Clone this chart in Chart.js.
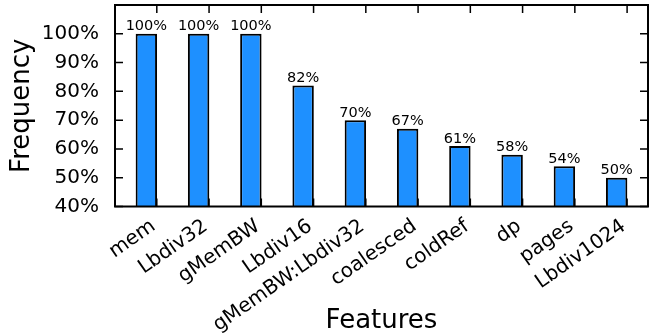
<!DOCTYPE html>
<html>
<head>
<meta charset="utf-8">
<script src="https://cdn.jsdelivr.net/npm/chart.js@4/dist/chart.umd.min.js"></script>
<style>
  html, body { margin: 0; padding: 0; background: #fff; }
  #wrap { width: 657px; height: 335px; }
</style>
</head>
<body>
<div id="wrap"><canvas id="c" width="657" height="335"></canvas></div>
<script>
// Feature names along the x axis
const features = ['mem', 'Lbdiv32', 'gMemBW', 'Lbdiv16', 'gMemBW:Lbdiv32',
                  'coalesced', 'coldRef', 'dp', 'pages', 'Lbdiv1024'];
// How often each feature appears (percent)
const frequency = [100, 100, 100, 82, 70, 67, 61, 58, 54, 50];
// Y axis tick values (percent)
const yTicks = [40, 50, 60, 70, 80, 90, 100, 110];

const FONT = 'DejaVu Sans';

// Bars sit just left of their tick: each spans [i - 0.4, i]
const barPoints = frequency.map((v, i) => ({ x: i - 0.2, y: v }));

// Frame with inward tick marks on every side
const framePlugin = {
  id: 'frame',
  afterDatasetsDraw(chart) {
    const { ctx, chartArea: a, scales } = chart;
    ctx.save();
    ctx.strokeStyle = '#000';
    ctx.lineWidth = 1.5;
    const len = 8;
    ctx.beginPath();
    yTicks.forEach(v => {
      const y = scales.y.getPixelForValue(v);
      ctx.moveTo(a.left, y); ctx.lineTo(a.left + len, y);
      ctx.moveTo(a.right, y); ctx.lineTo(a.right - len, y);
    });
    features.forEach((_, i) => {
      const x = scales.x.getPixelForValue(i);
      ctx.moveTo(x, a.top); ctx.lineTo(x, a.top + len);
      ctx.moveTo(x, a.bottom); ctx.lineTo(x, a.bottom - len);
    });
    ctx.stroke();
    ctx.lineWidth = 2;
    ctx.strokeRect(a.left, a.top, a.right - a.left, a.bottom - a.top);
    ctx.restore();
  }
};

// Percentage written above each bar
const valueLabels = {
  id: 'valueLabels',
  afterDatasetsDraw(chart) {
    const { ctx } = chart;
    const meta = chart.getDatasetMeta(0);
    ctx.save();
    ctx.fillStyle = '#000';
    ctx.font = '14.5px "' + FONT + '"';
    ctx.textAlign = 'center';
    ctx.textBaseline = 'alphabetic';
    meta.data.forEach((bar, i) => {
      ctx.fillText(frequency[i] + '%', bar.x, bar.y - 3.5);
    });
    ctx.restore();
  }
};

new Chart(document.getElementById('c'), {
  type: 'bar',
  data: {
    datasets: [{
      data: barPoints,
      backgroundColor: '#1E90FF',
      borderColor: '#000',
      borderWidth: 2,
      borderSkipped: false,
      barPercentage: 0.41,
      categoryPercentage: 1
    }]
  },
  options: {
    responsive: false,
    animation: false,
    events: [],
    layout: { padding: { top: 5, right: 9, left: 0, bottom: 0 } },
    plugins: { legend: { display: false }, tooltip: { enabled: false } },
    scales: {
      x: {
        type: 'linear',
        min: -0.8,
        max: 9.4,
        offset: false,
        grid: { display: false },
        border: { display: false },
        afterBuildTicks(scale) {
          // rotated names end just at their tick mark
          scale.ticks = features.map((_, i) => ({ value: i - 0.065 }));
        },
        afterFit(scale) {
          scale.height = 128.5;
          scale.paddingLeft = 0;
          scale.paddingRight = 0;
        },
        ticks: {
          autoSkip: false,
          minRotation: 35,
          maxRotation: 35,
          padding: 0,
          color: '#000',
          font: { family: FONT, size: 20 },
          callback: (v, i) => features[i]
        },
        title: {
          display: true,
          text: 'Features',
          color: '#000',
          font: { family: FONT, size: 26 },
          padding: { top: 0, bottom: -2 }
        }
      },
      y: {
        min: 40,
        max: 110,
        grid: { display: false },
        border: { display: false },
        afterBuildTicks(scale) {
          scale.ticks = yTicks.filter(v => v <= 100).map(v => ({ value: v }));
        },
        afterFit(scale) {
          scale.width = 115;
          scale.paddingTop = 0;
          scale.paddingBottom = 0;
        },
        ticks: {
          padding: 8,
          color: '#000',
          font: { family: FONT, size: 20 },
          callback: v => v + '%'
        },
        title: {
          display: true,
          text: 'Frequency',
          color: '#000',
          font: { family: FONT, size: 26 },
          padding: { top: 7, bottom: 0 }
        }
      }
    }
  },
  plugins: [framePlugin, valueLabels]
});
</script>
</body>
</html>
